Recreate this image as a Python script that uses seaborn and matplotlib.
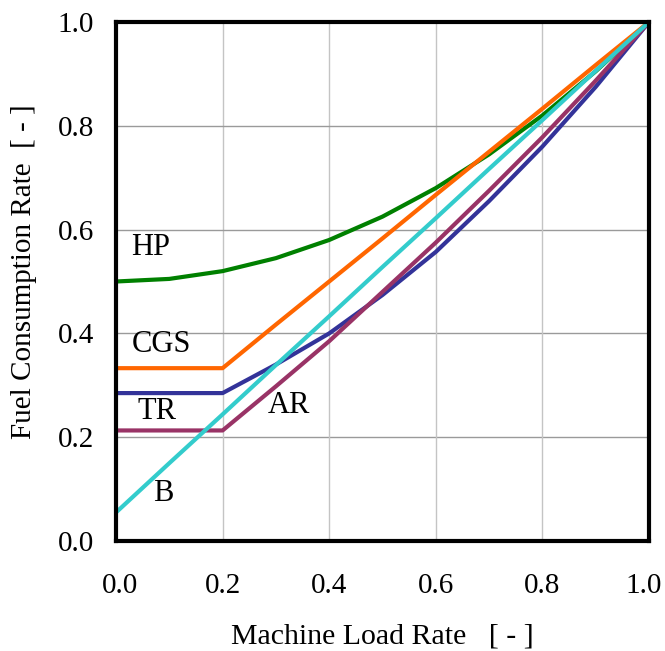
import numpy as np
import pandas as pd
import matplotlib
matplotlib.use("Agg")
import matplotlib.pyplot as plt
import matplotlib.transforms as mtransforms
import seaborn as sns

load = [0.0, 0.1, 0.2, 0.3, 0.4, 0.5, 0.6, 0.7, 0.8, 0.9, 1.0]
hp  = [0.500, 0.505, 0.520, 0.545, 0.580, 0.625, 0.680, 0.745, 0.820, 0.905, 1.000]
cgs = [0.333, 0.333, 0.333, 0.417, 0.500, 0.583, 0.667, 0.750, 0.833, 0.917, 1.000]
tr  = [0.285, 0.285, 0.285, 0.340, 0.400, 0.474, 0.557, 0.655, 0.760, 0.875, 1.000]
ar  = [0.213, 0.213, 0.213, 0.298, 0.385, 0.480, 0.575, 0.675, 0.778, 0.887, 1.000]
b   = [0.055, 0.150, 0.244, 0.339, 0.433, 0.528, 0.622, 0.717, 0.811, 0.906, 1.000]
series_names = ["HP", "CGS", "TR", "AR", "B"]
colors = ["#008000", "#FF6600", "#333399", "#993366", "#33CCCC"]

label_pos = {"HP": (0.065, 0.565), "CGS": (0.086, 0.378), "TR": (0.076, 0.250),
             "AR": (0.325, 0.262), "B": (0.088, 0.092)}

frames = []
for name, vals in zip(series_names, [hp, cgs, tr, ar, b]):
    frames.append(pd.DataFrame({"load": load, "fuel": vals, "series": name}))
df = pd.concat(frames, ignore_index=True)

sns.set_style("white")
plt.rcParams["font.family"] = ["Liberation Serif", "DejaVu Serif"]
plt.rcParams["text.color"] = "black"
plt.rcParams["axes.labelcolor"] = "black"
plt.rcParams["xtick.color"] = "black"
plt.rcParams["ytick.color"] = "black"

fig = plt.figure(figsize=(6.65, 6.51), dpi=100)
ax = fig.add_axes([116/665, 1-541/651, (649-116)/665, (541-22)/651])

ax.set_xlim(0, 1)
ax.set_ylim(0, 1)
ticks = [0.0, 0.2, 0.4, 0.6, 0.8, 1.0]
ax.set_xticks(ticks)
ax.set_yticks(ticks)
for t in ticks[1:-1]:
    ax.axhline(t, color="#9a9a9a", lw=1.0, zorder=0)
    ax.axvline(t, color="#c4c4c4", lw=1.0, zorder=0)

sns.lineplot(data=df, x="load", y="fuel", hue="series", hue_order=series_names,
             palette=dict(zip(series_names, colors)), lw=3.0, legend=False,
             ax=ax, sort=False, estimator=None)

for name in series_names:
    x, y = label_pos[name]
    ax.text(x, y, name, fontsize=22, ha="center", va="center", color="black")

ax.set_xticklabels([f"{t:.1f}" for t in ticks])
ax.set_yticklabels([f"{t:.1f}" for t in ticks])
ax.tick_params(axis="both", direction="in", length=7, width=1, labelsize=21, color="black")
ax.tick_params(axis="x", pad=23)
ax.tick_params(axis="y", pad=16)
for s in ax.spines.values():
    s.set_linewidth(3.0)
    s.set_color("black")
    s.set_visible(True)

# nudge end x tick labels inward slightly, as in the reference
xlabels = ax.get_xticklabels()
xlabels[0].set_transform(xlabels[0].get_transform() +
                         mtransforms.ScaledTranslation(4/100, 0, fig.dpi_scale_trans))
xlabels[-1].set_transform(xlabels[-1].get_transform() +
                          mtransforms.ScaledTranslation(-5/100, 0, fig.dpi_scale_trans))

ax.set_xlabel("Machine Load Rate   [ - ]", fontsize=21.5)
ax.set_ylabel("Fuel Consumption Rate  [ - ]", fontsize=21)
ax.xaxis.set_label_coords(0.5, (541-623)/519)
ax.yaxis.set_label_coords((37-116)/533, (541-272)/519)

fig.savefig("out.png", dpi=100)
